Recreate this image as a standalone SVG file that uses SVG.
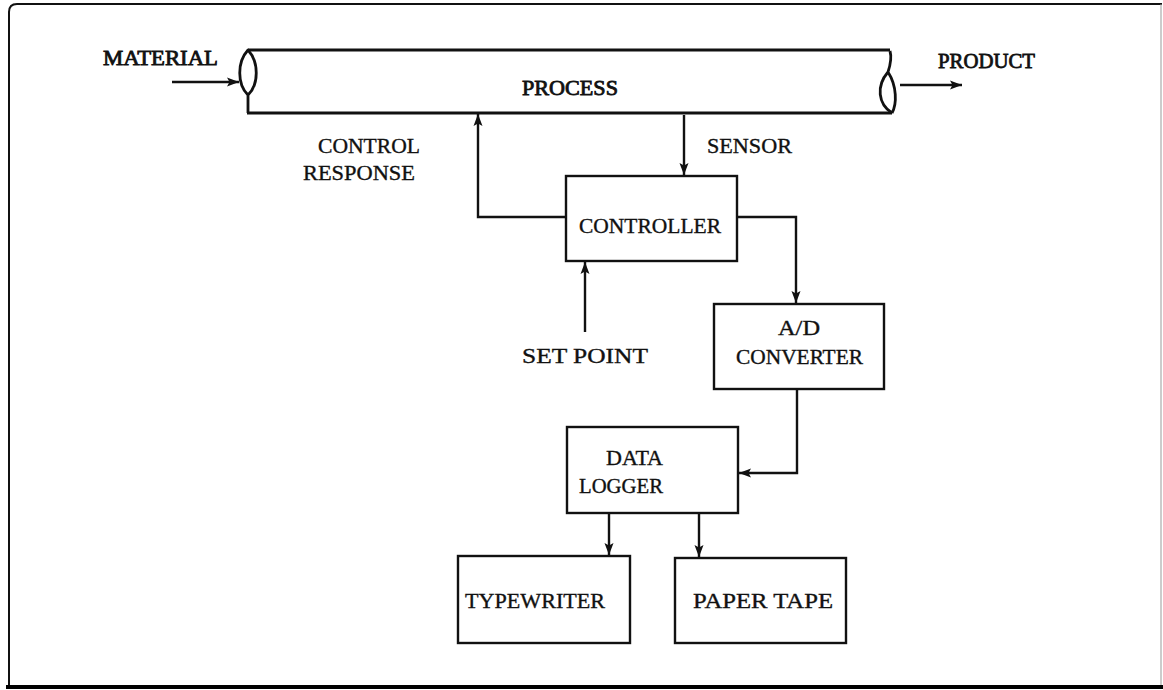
<svg xmlns="http://www.w3.org/2000/svg" width="1163" height="690" viewBox="0 0 1163 690">
  <style>
    .box { fill: #fff; stroke: #111; stroke-width: 2.4; }
    .wire { fill: none; stroke: #111; stroke-width: 2.4; }
    .pipe { fill: none; stroke: #111; stroke-width: 2.8; stroke-linejoin: round; }
    .lbl { font-family: "Liberation Serif", "Times New Roman", serif; font-size: 21px; fill: #111; stroke: #111; stroke-width: 0.35; }
    .hd { stroke-width: 0.8; }
  </style>
  <defs>
    <marker id="arrow" viewBox="0 0 12 10" refX="12" refY="5" markerWidth="12" markerHeight="10" markerUnits="userSpaceOnUse" orient="auto">
      <path d="M0,0.5 L12,5 L0,9.5 L2.5,5 Z" fill="#111"/>
    </marker>
  </defs>

  <rect width="1163" height="690" fill="#fff"/>

  <!-- page frame -->
  <g id="frame">
    <path d="M9,688 V12 Q9,4 17,4 H1162" fill="none" stroke="#111" stroke-width="2"/>
    <path d="M1161,4 V688" fill="none" stroke="#999" stroke-width="1"/>
    <path d="M6,687 H1163" fill="none" stroke="#000" stroke-width="4"/>
  </g>

  <!-- process pipe -->
  <g id="process">
    <path class="pipe" d="M248,50 H890 M247,113 H892"/>
    <path class="pipe" d="M248,50 C237,62 237,84 248,95 C259,84 259,62 248,50 Z M248,95 V113"/>
    <path class="pipe" d="M890,51 C892,58 890,66 888,72 C876,86 878,104 892,113 M888,72 C897,86 897,104 892,113"/>
    <text class="lbl hd" x="522" y="95" textLength="96" lengthAdjust="spacingAndGlyphs">PROCESS</text>
  </g>

  <g id="material">
    <text class="lbl hd" x="103" y="65" textLength="115" lengthAdjust="spacingAndGlyphs">MATERIAL</text>
  </g>
  <g id="product">
    <text class="lbl hd" x="938" y="68" textLength="97" lengthAdjust="spacingAndGlyphs">PRODUCT</text>
  </g>

  <g id="controller">
    <rect class="box" x="566" y="176" width="171" height="85"/>
    <text class="lbl" x="579" y="233" textLength="142" lengthAdjust="spacingAndGlyphs">CONTROLLER</text>
  </g>

  <g id="ad-converter">
    <rect class="box" x="714" y="304" width="170" height="85"/>
    <text class="lbl" x="778" y="335" textLength="42" lengthAdjust="spacingAndGlyphs">A/D</text>
    <text class="lbl" x="736" y="364" textLength="127" lengthAdjust="spacingAndGlyphs">CONVERTER</text>
  </g>

  <g id="data-logger">
    <rect class="box" x="567" y="427" width="171" height="86"/>
    <text class="lbl" x="606" y="465" textLength="57" lengthAdjust="spacingAndGlyphs">DATA</text>
    <text class="lbl" x="579" y="493" textLength="84" lengthAdjust="spacingAndGlyphs">LOGGER</text>
  </g>

  <g id="typewriter">
    <rect class="box" x="458" y="556" width="172" height="87"/>
    <text class="lbl" x="465" y="608" textLength="140" lengthAdjust="spacingAndGlyphs">TYPEWRITER</text>
  </g>

  <g id="paper-tape">
    <rect class="box" x="675" y="558" width="171" height="85"/>
    <text class="lbl" x="693" y="608" textLength="140" lengthAdjust="spacingAndGlyphs">PAPER TAPE</text>
  </g>

  <!-- connectors -->
  <g id="connectors">
    <path class="wire" d="M172,82 H239" marker-end="url(#arrow)"/>
    <path class="wire" d="M900,85 H962" marker-end="url(#arrow)"/>
    <path class="wire" d="M566,217 H478 V114" marker-end="url(#arrow)"/>
    <path class="wire" d="M684,115 V175" marker-end="url(#arrow)"/>
    <path class="wire" d="M737,217 H796 V303" marker-end="url(#arrow)"/>
    <path class="wire" d="M585,332 V262" marker-end="url(#arrow)"/>
    <path class="wire" d="M797,389 V473 H739" marker-end="url(#arrow)"/>
    <path class="wire" d="M609,513 V555" marker-end="url(#arrow)"/>
    <path class="wire" d="M699,513 V557" marker-end="url(#arrow)"/>
  </g>

  <!-- connector labels -->
  <g id="labels">
    <text class="lbl" x="318" y="153" textLength="102" lengthAdjust="spacingAndGlyphs">CONTROL</text>
    <text class="lbl" x="303" y="180" textLength="112" lengthAdjust="spacingAndGlyphs">RESPONSE</text>
    <text class="lbl" x="707" y="153" textLength="85" lengthAdjust="spacingAndGlyphs">SENSOR</text>
    <text class="lbl" x="522" y="363" textLength="126" lengthAdjust="spacingAndGlyphs">SET POINT</text>
  </g>
</svg>
